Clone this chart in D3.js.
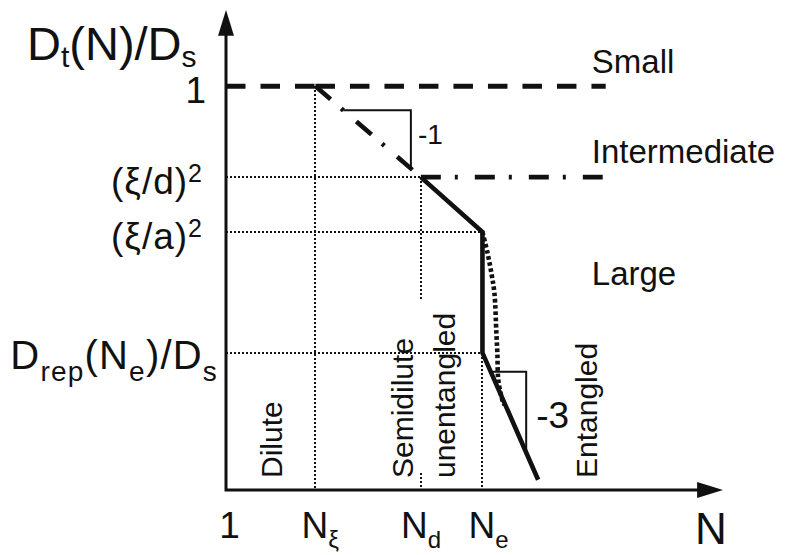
<!DOCTYPE html>
<html>
<head>
<meta charset="utf-8">
<script src="https://cdn.jsdelivr.net/npm/d3@7"></script>
<style>
  html, body { margin: 0; padding: 0; background: #fff; }
  svg { display: block; font-family: "Liberation Sans", Arial, Helvetica, sans-serif; }
</style>
</head>
<body>
<svg id="chart" width="787" height="555"></svg>
<script>
// Coordinates are logarithmic: n = log N, d = log(Dt/Ds)

// Axis ticks
const xTickValues = [0, 0.9, 1.96, 2.58];
const xTickLabels = [["1", ""], ["N", "ξ"], ["N", "d"], ["N", "e"]];
const yTickValues = [0, -1.06, -1.70, -3.11];
const yTickLabels = [
  [["1", "n"]],
  [["(ξ/d)", "n"], ["2", "sup"]],
  [["(ξ/a)", "n"], ["2", "sup"]],
  [["D", "n"], ["rep", "sub"], ["(N", "n"], ["e", "sub"], [")/D", "n"], ["s", "sub"]]
];

// Small-tracer regime: D = Ds
const smallN = [0, 0.9, 3.82];
const smallD = [0, 0, 0];

// Intermediate-tracer regime
const interDiagN = [0.9, 1.96];
const interDiagD = [0, -1.06];
const interFlatN = [1.96, 3.79];
const interFlatD = [-1.06, -1.06];

// Large-tracer regime (solid)
const largeN = [1.96, 2.58, 2.58, 3.14];
const largeD = [-1.06, -1.70, -3.11, -4.59];

// Smooth crossover near Ne (dotted)
const crossN = [2.58, 2.63, 2.67, 2.70, 2.72, 2.73, 2.74, 2.78, 2.80];
const crossD = [-1.70, -1.94, -2.18, -2.41, -2.88, -3.11, -3.43, -3.66, -3.72];

// Slope triangles
const triOneN = [1.18, 1.86, 1.86];
const triOneD = [-0.28, -0.28, -0.96];
const triThreeN = [2.66, 3.02, 3.02];
const triThreeD = [-3.33, -3.33, -4.27];
const slopeLabels = ["-1", "-3"];

const tracerLabels = ["Small", "Intermediate", "Large"];
const regimeLabels = ["Dilute", "Semidilute", "unentangled", "Entangled"];

const svg = d3.select("#chart");
const x = d3.scaleLinear().domain([0, 5]).range([226, 723]);
const y = d3.scaleLinear().domain([-4.71, 0.89]).range([490, 10]);
const x0 = x(0), y0 = y(-4.71);
const ink = "#111";

const line = d3.line().x(p => x(p[0])).y(p => y(p[1]));
const pts = (ns, ds) => ns.map((n, i) => [n, ds[i]]);

// Reference (dotted) lines
const guide = svg.append("g")
  .attr("fill", "none").attr("stroke", ink)
  .attr("stroke-width", 2).attr("stroke-dasharray", "2,2")
  .attr("shape-rendering", "crispEdges");
guide.append("path").attr("d", line([[0, yTickValues[1]], [xTickValues[2], yTickValues[1]]]));
guide.append("path").attr("d", line([[0, yTickValues[2]], [xTickValues[3], yTickValues[2]]]));
guide.append("path").attr("d", line([[0, yTickValues[3]], [xTickValues[3], yTickValues[3]]]));
guide.append("path").attr("d", line([[xTickValues[1], 0], [xTickValues[1], -4.71]]));
guide.append("path").attr("d", line([[xTickValues[2], yTickValues[1]], [xTickValues[2], -2.49]]));
guide.append("path").attr("d", line([[xTickValues[2], -4.51], [xTickValues[2], -4.71]]));
guide.append("path").attr("d", line([[xTickValues[3], yTickValues[3]], [xTickValues[3], -4.71]]));

// Small: dashed, pattern restarts at N_xi
const sm = pts(smallN, smallD);
[[sm[0], sm[1]], [sm[1], sm[2]]].forEach(seg => {
  svg.append("path").attr("d", line(seg))
    .attr("fill", "none").attr("stroke", ink).attr("stroke-width", 5)
    .attr("stroke-dasharray", "19.5,15");
});

// Intermediate: dash-dot
[pts(interDiagN, interDiagD), pts(interFlatN, interFlatD)].forEach(seg => {
  svg.append("path").attr("d", line(seg))
    .attr("fill", "none").attr("stroke", ink).attr("stroke-width", 4.6)
    .attr("stroke-dasharray", "20,14,3,17");
});

// Large: solid
svg.append("path").attr("d", line(pts(largeN, largeD)))
  .attr("fill", "none").attr("stroke", ink).attr("stroke-width", 4.6)
  .attr("stroke-linejoin", "miter");

// Crossover: thick dotted curve
svg.append("path")
  .attr("d", d3.line().x(p => x(p[0])).y(p => y(p[1])).curve(d3.curveCatmullRom)(pts(crossN, crossD)))
  .attr("fill", "none").attr("stroke", ink).attr("stroke-width", 4.6)
  .attr("stroke-dasharray", "3.6,2.6");

// Slope triangles
[pts(triOneN, triOneD), pts(triThreeN, triThreeD)].forEach(tri => {
  svg.append("path").attr("d", line(tri))
    .attr("fill", "none").attr("stroke", ink).attr("stroke-width", 2);
});
svg.append("text").text(slopeLabels[0])
  .attr("x", x(triOneN[1]) + 7)
  .attr("y", (y(triOneD[1]) + y(triOneD[2])) / 2 + 5)
  .attr("font-size", 28).attr("fill", ink);
svg.append("text").text(slopeLabels[1])
  .attr("x", x(triThreeN[1]) + 10)
  .attr("y", (y(triThreeD[1]) + y(triThreeD[2])) / 2 + 16)
  .attr("font-size", 37).attr("fill", ink);

// Axes with arrowheads
const xAxis = d3.axisBottom(x).tickValues(xTickValues).tickSize(0).tickFormat("");
const xg = svg.append("g").attr("transform", `translate(0,${y0})`).call(xAxis);
xg.select(".domain").remove();
const yAxis = d3.axisLeft(y).tickValues(yTickValues).tickSize(0).tickFormat("");
const yg = svg.append("g").attr("transform", `translate(${x0},0)`).call(yAxis);
yg.select(".domain").remove();

svg.append("path")
  .attr("d", `M${x0},${y(0.6)}V${y0}H${x(4.75)}`)
  .attr("fill", "none").attr("stroke", ink).attr("stroke-width", 3)
  .attr("stroke-linejoin", "miter");
svg.append("path")
  .attr("d", `M${x0},${y(0.89)}L${x0 - 8},${y(0.59)}L${x0 + 8},${y(0.59)}Z`)
  .attr("fill", ink);
svg.append("path")
  .attr("d", `M${x(5)},${y0}L${x(4.74)},${y0 - 8}L${x(4.74)},${y0 + 8}Z`)
  .attr("fill", ink);

// x tick labels
xg.selectAll(".tick").each(function (d, i) {
  const lab = xTickLabels[i];
  const t = d3.select(this).append("text")
    .attr("fill", ink).attr("font-size", 37)
    .attr("y", 48);
  if (!lab[1]) {
    t.attr("text-anchor", "middle").attr("x", 3).text(lab[0]);
  } else {
    t.attr("text-anchor", "start").attr("x", -13.4 - (i === 2 ? 7 : 1));
    t.append("tspan").text(lab[0]);
    t.append("tspan").attr("font-size", 24).attr("dy", 10).text(lab[1]);
  }
});

// y tick labels
yg.selectAll(".tick").each(function (d, i) {
  const parts = yTickLabels[i];
  const big = i === 3;
  const t = d3.select(this).append("text")
    .attr("fill", ink).attr("font-size", big ? 40 : 37)
    .attr("text-anchor", "end")
    .attr("x", big ? -8 : (i === 0 ? -19 : -23))
    .attr("y", 16)
    .style("letter-spacing", big ? "1.2px" : "1px");
  let shift = 0;
  parts.forEach(([s, kind]) => {
    const target = kind === "sub" ? 12 : kind === "sup" ? -12 : 0;
    const ts = t.append("tspan").text(s).attr("dy", target - shift);
    if (kind !== "n") ts.attr("font-size", big ? 28 : 25);
    shift = target;
  });
});

// Axis titles
const yt = svg.append("text").attr("x", 27).attr("y", 60)
  .attr("font-size", 47).attr("fill", ink);
yt.append("tspan").text("D");
yt.append("tspan").attr("font-size", 30).attr("dy", 7).text("t");
yt.append("tspan").attr("dy", -7).text("(N)/D");
yt.append("tspan").attr("font-size", 30).attr("dy", 7).text("s");

svg.append("text").text("N").attr("x", 695).attr("y", 544)
  .attr("font-size", 44).attr("fill", ink);

// Tracer size labels
const tracerD = [0.16, -0.89, -2.32];
tracerLabels.forEach((s, i) => {
  svg.append("text").text(s)
    .attr("x", x(3.68)).attr("y", y(tracerD[i]))
    .attr("font-size", 33).attr("fill", ink);
});

// Concentration regime labels, rotated
const regimeN = [0.563, 1.885, 2.304, 3.733];
regimeLabels.forEach((s, i) => {
  svg.append("text").text(s)
    .attr("transform", `translate(${x(regimeN[i])},${y(-4.57)}) rotate(-90)`)
    .attr("font-size", 30).attr("fill", ink);
});
</script>
</body>
</html>
